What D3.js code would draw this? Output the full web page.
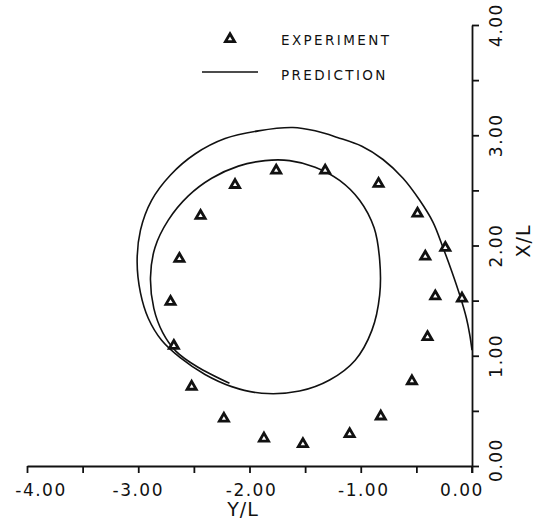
<!DOCTYPE html>
<html>
<head>
<meta charset="utf-8">
<script src="https://cdn.jsdelivr.net/npm/d3@7"></script>
<style>
  body { margin: 0; background: #fff; }
  svg { display: block; }
  .lbl { font-family: "DejaVu Sans", sans-serif; fill: #111; }
</style>
</head>
<body>
<script>
// experiment points, [Y/L, X/L]
var expY = [-1.52, -1.10, -0.82, -0.54, -0.40, -0.33, -0.09, -0.24, -0.42, -0.49, -0.84,
            -1.32, -1.76, -2.13, -2.44, -2.63, -2.71, -2.68, -2.52, -2.23, -1.87];
var expX = [0.20, 0.29, 0.45, 0.77, 1.17, 1.54, 1.52, 1.98, 1.90, 2.29, 2.56,
            2.68, 2.68, 2.55, 2.27, 1.88, 1.49, 1.09, 0.72, 0.43, 0.25];

// prediction curve read along the spiral, from the start on the axis to the free end
var predY = [0.00, -0.02, -0.05, -0.11, -0.18, -0.26, -0.35, -0.47, -0.62, -0.80, -0.99,
             -1.21, -1.41, -1.61, -1.92, -2.22, -2.49, -2.71, -2.88, -2.98, -3.01, -2.98,
             -2.91, -2.79, -2.62, -2.40, -2.16, -1.89,
             -1.55, -1.28, -1.05, -0.90, -0.83, -0.83, -0.88, -1.01, -1.19, -1.41, -1.64,
             -1.86, -2.10, -2.34, -2.55, -2.73, -2.85, -2.89, -2.86, -2.78, -2.66, -2.47, -2.18];
var predX = [1.05, 1.19, 1.34, 1.55, 1.76, 1.98, 2.21, 2.41, 2.61, 2.78, 2.90,
             2.98, 3.04, 3.07, 3.04, 2.97, 2.83, 2.64, 2.41, 2.14, 1.85, 1.57,
             1.34, 1.14, 0.98, 0.83, 0.72, 0.66,
             0.68, 0.78, 0.96, 1.23, 1.55, 1.87, 2.16, 2.41, 2.59, 2.71, 2.77,
             2.77, 2.72, 2.61, 2.45, 2.23, 1.98, 1.71, 1.43, 1.21, 1.04, 0.90, 0.75];

var xTickValues = [-4, -3, -2, -1, 0];
var xTickLabels = ["-4.00", "-3.00", "-2.00", "-1.00", "0.00"];
var yTickValues = [0, 1, 2, 3, 4];
var yTickLabels = ["0.00", "1.00", "2.00", "3.00", "4.00"];
var legendLabels = ["EXPERIMENT", "PREDICTION"];

window.onload = drawChart();

function drawChart(){

    var width = 541,
        height = 529;

    var svg = d3.select("body")
        .append("svg")
        .attr("width", width)
        .attr("height", height);

    var x = d3.scaleLinear().domain([-4, 0]).range([27, 472]);
    var y = d3.scaleLinear().domain([0, 4]).range([466, 25]);

    //bottom axis, minor ticks every 0.5
    var xAxis = d3.axisBottom(x)
        .tickValues(d3.range(-4, 0.01, 0.5))
        .tickSize(7)
        .tickSizeOuter(0)
        .tickFormat("");

    svg.append("g")
        .attr("transform", "translate(0," + y(0) + ")")
        .call(xAxis);

    //right axis
    var yAxis = d3.axisRight(y)
        .tickValues(d3.range(0, 4.01, 0.5))
        .tickSize(7)
        .tickSizeOuter(0)
        .tickFormat("");

    svg.append("g")
        .attr("transform", "translate(" + x(0) + ",0)")
        .call(yAxis);

    svg.selectAll(".domain, .tick line")
        .attr("stroke", "#111")
        .attr("stroke-width", 1.8);

    //vertical axis runs down through the bottom axis a little
    svg.append("line")
        .attr("x1", x(0)).attr("x2", x(0))
        .attr("y1", y(0)).attr("y2", y(0) + 7)
        .attr("stroke", "#111").attr("stroke-width", 1.8);

    //tick labels
    var xShift = [14, 0, 2, 3, -10];
    svg.selectAll(".xlab")
        .data(xTickValues)
        .enter()
        .append("text")
        .attr("class", "lbl")
        .attr("x", function(d, i){ return x(d) + xShift[i]; })
        .attr("y", 496)
        .attr("text-anchor", "middle")
        .attr("font-size", 17)
        .attr("letter-spacing", 1.5)
        .text(function(d, i){ return xTickLabels[i]; });

    svg.selectAll(".ylab")
        .data(yTickValues)
        .enter()
        .append("text")
        .attr("class", "lbl")
        .attr("transform", function(d, i){
            var cy = y(d) - (i == 0 ? 6 : 0);
            return "translate(502," + cy + ") rotate(-90)";
        })
        .attr("text-anchor", "middle")
        .attr("font-size", 17)
        .attr("letter-spacing", 1.5)
        .text(function(d, i){ return yTickLabels[i]; });

    //axis titles
    svg.append("text")
        .attr("class", "lbl")
        .attr("x", 243)
        .attr("y", 516)
        .attr("text-anchor", "middle")
        .attr("font-size", 19)
        .attr("letter-spacing", 1)
        .text("Y/L");

    svg.append("text")
        .attr("class", "lbl")
        .attr("transform", "translate(530,241) rotate(-90)")
        .attr("text-anchor", "middle")
        .attr("font-size", 19)
        .attr("letter-spacing", 1)
        .text("X/L");

    //prediction curve
    var predPts = predY.map(function(d, i){ return [d, predX[i]]; });
    var line = d3.line()
        .x(function(d){ return x(d[0]); })
        .y(function(d){ return y(d[1]); })
        .curve(d3.curveCatmullRom.alpha(0.5));

    svg.append("path")
        .datum(predPts)
        .attr("d", line)
        .attr("fill", "none")
        .attr("stroke", "#111")
        .attr("stroke-width", 1.6);

    //experiment triangles
    var tri = d3.symbol().type(d3.symbolTriangle).size(36);
    svg.selectAll(".exp")
        .data(expY)
        .enter()
        .append("path")
        .attr("class", "exp")
        .attr("d", tri)
        .attr("transform", function(d, i){
            return "translate(" + x(d) + "," + y(expX[i]) + ")";
        })
        .attr("fill", "#fff")
        .attr("stroke", "#111")
        .attr("stroke-width", 2.8);

    //legend
    svg.append("path")
        .attr("d", tri)
        .attr("transform", "translate(230,39)")
        .attr("fill", "#fff")
        .attr("stroke", "#111")
        .attr("stroke-width", 2.8);

    svg.append("line")
        .attr("x1", 202).attr("x2", 258)
        .attr("y1", 72).attr("y2", 72)
        .attr("stroke", "#111").attr("stroke-width", 1.4);

    svg.selectAll(".leg")
        .data(legendLabels)
        .enter()
        .append("text")
        .attr("class", "lbl")
        .attr("x", 281)
        .attr("y", function(d, i){ return 45 + i * 35; })
        .attr("font-size", 13.5)
        .attr("letter-spacing", 2.4)
        .text(function(d){ return d; });
};
</script>
</body>
</html>
